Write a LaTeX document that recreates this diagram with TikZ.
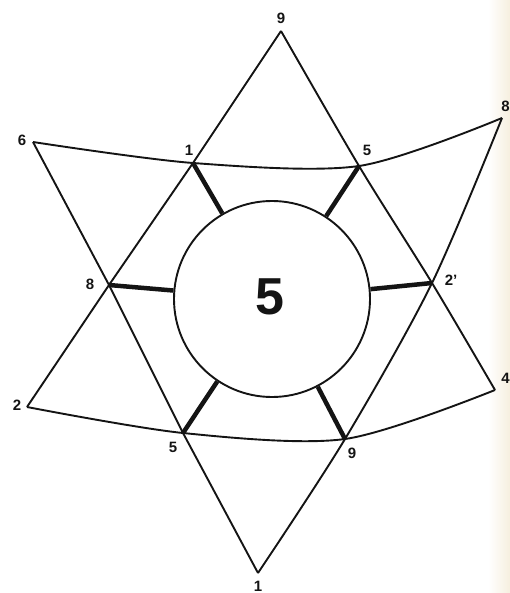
\documentclass[tikz,border=0pt]{standalone}
\usepackage{fontspec}
\setmainfont{Liberation Sans}
\usepackage{xcolor}
\usetikzlibrary{calc}
\definecolor{ink}{HTML}{141414}
\definecolor{paper}{HTML}{F6EFDF}

\begin{document}
\begin{tikzpicture}[x=1pt,y=-1pt,line join=round,
    edge/.style={ink,line width=1.9pt},
    spoke/.style={ink,line width=4.5pt},
    lab/.style={font=\bfseries\fontsize{15}{16}\selectfont,text=ink,inner sep=0pt}]
  \useasboundingbox (0,0) rectangle (510,593);
  \shade[left color=white,right color=paper] (488,0) rectangle (510,593);
  % outer points
  \coordinate (t9) at (281,31);
  \coordinate (b1) at (258,573);
  \coordinate (o6) at (33,142);
  \coordinate (o2) at (27,407);
  \coordinate (o8) at (502,118);
  \coordinate (o4) at (495,390);
  % inner crossings
  \coordinate (i1) at (193,163);
  \coordinate (i5) at (359,166);
  \coordinate (i8) at (109,285);
  \coordinate (i2) at (432,283);
  \coordinate (j5) at (183,433);
  \coordinate (j9) at (345,439);
  % the six edges
  \draw[edge] (t9)--(i1)--(i8)--(o2);
  \draw[edge] plot[smooth] coordinates {(t9) (i5) (i2) (o4)};
  \draw[edge] (o6)--(i8)--(j5)--(b1);
  \draw[edge] plot[smooth] coordinates {(o8) (i2) (j9) (b1)};
  \draw[edge] plot[smooth] coordinates {(o6) (i1) (i5) (o8)};
  \draw[edge] plot[smooth] coordinates {(o2) (j5) (j9) (o4)};
  % centre disc and spokes
  \node[draw=ink,line width=1.9pt,fill=white,circle,minimum size=196pt,inner sep=0pt] (disc) at (272,299) {};
  \node[font=\bfseries\fontsize{52}{52}\selectfont,text=ink] (mid) at (270,297) {5};
  \foreach \p in {i1,i5,i8,i2,j5,j9}{\draw[spoke] (\p)--(disc);}
  % labels
  \node[lab] (l9) at (281,18) {9};
  \node[lab] (l1) at (258,586) {1};
  \node[lab] (l6) at (22,140) {6};
  \node[lab] (l2) at (17,405) {2};
  \node[lab] (li1) at (189,150) {1};
  \node[lab] (li5) at (367,150) {5};
  \node[lab] (li8) at (90,284) {8};
  \node[lab] (li2) at (451,280) {2'};
  \node[lab] (lj5) at (173,447) {5};
  \node[lab] (lj9) at (352,453) {9};
  \node[lab,anchor=east] (l8) at (510,106) {8};
  \node[lab,anchor=east] (l4) at (510,378) {4};
\end{tikzpicture}
\end{document}
